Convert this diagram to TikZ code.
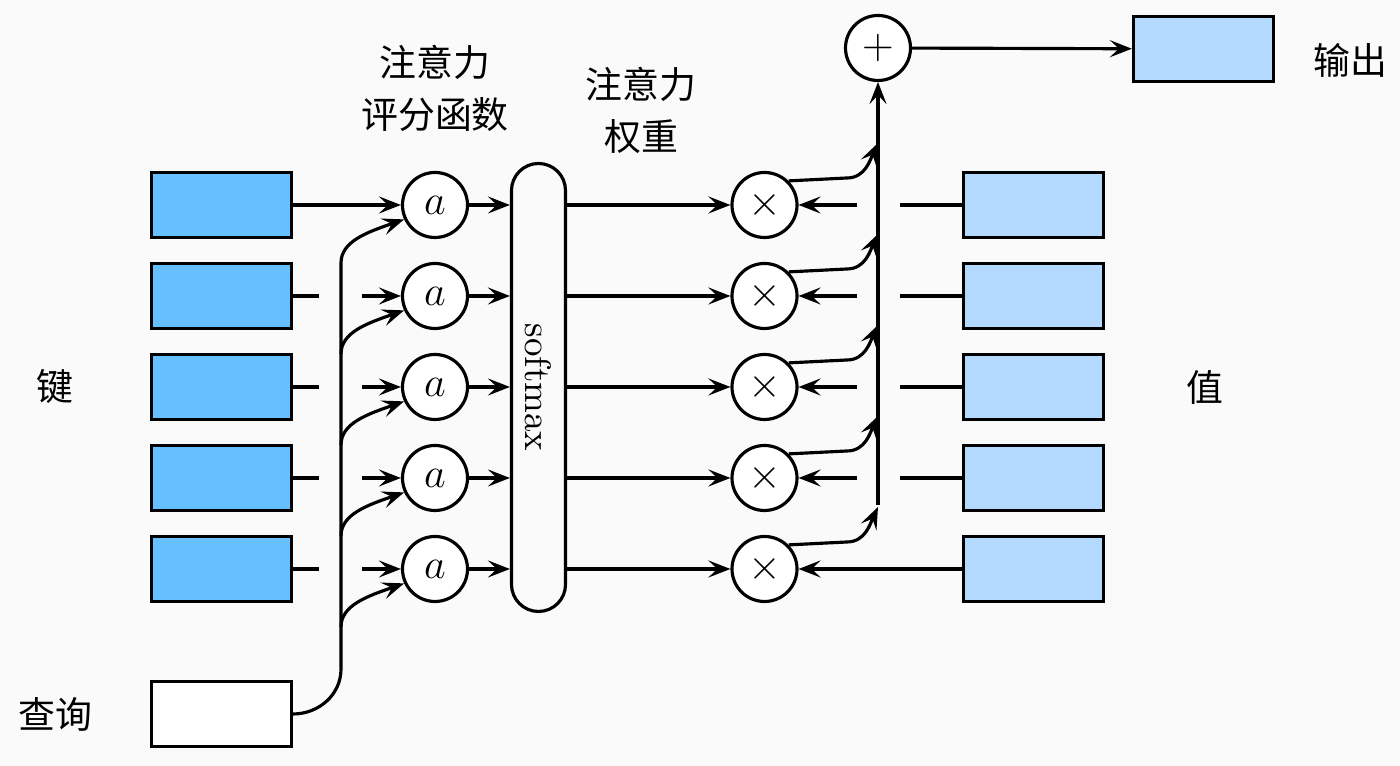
\documentclass[tikz,border=0pt]{standalone}
\usepackage{fontspec}
\usepackage{amsmath}
\usepackage{graphicx}
\newfontfamily\cjk{Noto Sans CJK SC}
\usetikzlibrary{arrows.meta}
\definecolor{bgcolor}{RGB}{250,250,250}
\definecolor{keyblue}{RGB}{102,191,255}
\definecolor{valueblue}{RGB}{179,217,255}

\begin{document}
\begin{tikzpicture}[line width=0.9pt, >={Stealth[length=2.2mm,width=1.7mm,inset=0.9mm]},
  keybox/.style={draw, fill=keyblue, minimum width=1.40cm, minimum height=0.655cm, inner sep=0pt},
  valbox/.style={keybox, fill=valueblue},
  opnode/.style={draw, circle, fill=white, minimum size=0.65cm, inner sep=0pt, font=\fontsize{11.5}{11.5}\selectfont},
  cjktext/.style={font=\cjk\fontsize{10.5}{15}\selectfont, align=center}]
% background
\fill[bgcolor] (0,0) rectangle (14,7.66);

% the five rows
\foreach \i/\y in {1/5.61,2/4.70,3/3.79,4/2.88,5/1.97} {
  \node[keybox] (k\i) at (2.215,\y) {};
  \node[opnode] (s\i) at (4.35,\y) {$a$};
  \node[opnode] (m\i) at (7.645,\y) {$\times$};
  \node[valbox] (v\i) at (10.335,\y) {};
}
\node[draw, rounded corners=0.27cm, minimum width=0.54cm, minimum height=4.48cm, inner sep=0pt] (sm) at (5.385,3.785)
  {\rotatebox{-90}{\fontsize{10.5}{12}\selectfont softmax}};
\node[keybox, fill=white] (q) at (2.215,0.52) {};
\node[opnode] (p) at (8.78,7.18) {$+$};
\node[valbox] (o) at (12.035,7.17) {};

% labels
\node[cjktext] (keylab) at (0.55,3.79) {键};
\node[cjktext] (vallab) at (12.05,3.79) {值};
\node[cjktext] (qlab) at (0.55,0.52) {查询};
\node[cjktext] (olab) at (13.5,7.06) {输出};
\node[cjktext] (scorelab) at (4.35,6.775) {注意力\\评分函数};
\node[cjktext] (weightlab) at (6.41,6.555) {注意力\\权重};

% keys and values into the circles
\draw[->] (k1) -- (s1);
\draw[->] (v5) -- (m5);
\foreach \i/\y in {2/4.70,3/3.79,4/2.88,5/1.97} {
  \draw (k\i.east) -- (3.19,\y);
  \draw[->] (3.62,\y) -- (s\i);
}
\foreach \i/\y in {1/5.61,2/4.70,3/3.79,4/2.88} {
  \draw (v\i.west) -- (9.0,\y);
  \draw[->] (8.57,\y) -- (m\i);
}

% query to every score
\draw (q.east) to[out=0,in=270] (3.41,0.97) -- (3.41,5.03);
\foreach \i/\y in {1/5.61,2/4.70,3/3.79,4/2.88,5/1.97} {
  \draw[->] (3.41,\y-0.58) .. controls (3.41,\y-0.36) and (3.68,\y-0.27) .. (s\i.205);
  \draw[->] (s\i) -- (s\i -| sm.west);
  \draw[->] (m\i -| sm.east) -- (m\i);
  \draw[->] (m\i.45) -- (8.47,\y+0.27) to[out=0,in=245] (8.78,\y+0.62);
}

% sum and output
\draw[->] (8.78,2.61) -- (p);
\draw[->] (p) -- (o);
\end{tikzpicture}
\end{document}
